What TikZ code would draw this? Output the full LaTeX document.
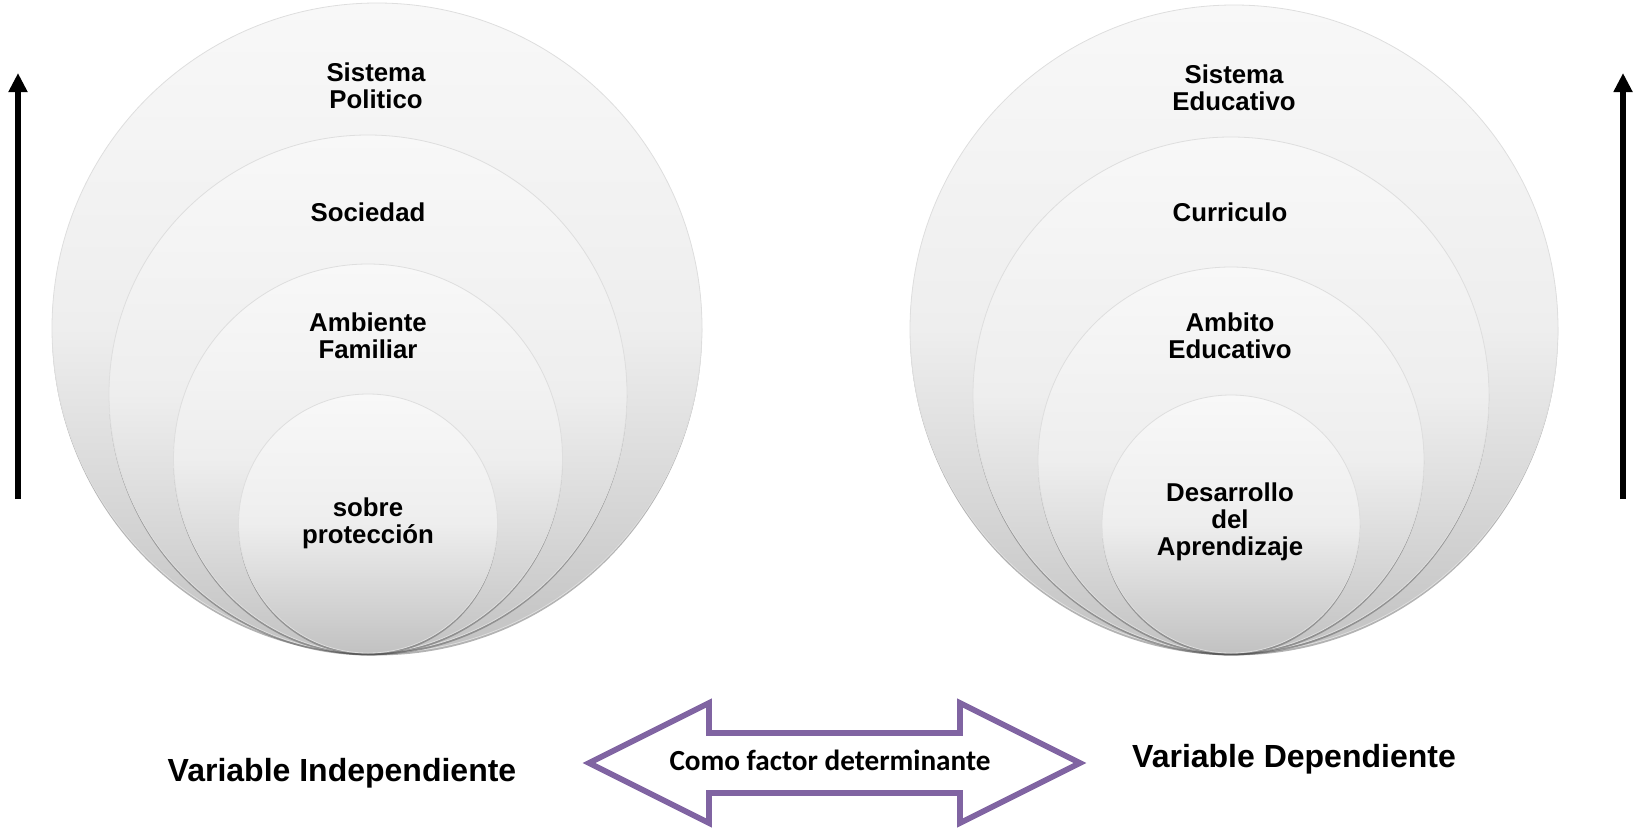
\documentclass[tikz,border=0pt]{standalone}
\usepackage{fontspec}
\setmainfont{Liberation Sans}
\newfontfamily\calib{Carlito}
\usetikzlibrary{arrows.meta,shadows}
\definecolor{purp}{HTML}{8064A2}
\definecolor{ctop}{HTML}{F8F8F8}
\definecolor{cmid}{HTML}{EEEEEE}
\definecolor{cbot}{HTML}{C2C2C2}
\tikzset{
  ring/.style={circle, inner sep=0pt, minimum size=#1, draw=black!13, line width=0.4pt,
    top color=ctop, bottom color=cbot, middle color=cmid,
    drop shadow={shadow xshift=0pt, shadow yshift=-1.2pt, opacity=0.4, fill=black!75}},
  lbl/.style={align=center, inner sep=0pt, font=\bfseries\fontsize{12.9}{13.4}\selectfont},
  varlbl/.style={inner sep=0pt, font=\bfseries\fontsize{16}{18}\selectfont},
  uparrow/.style={line width=3pt, -{Triangle[width=9pt,length=9.5pt]}},
  dblarrow/.style={draw=purp, line width=2.85pt, line join=miter, fill=white}
}
\begin{document}
\begin{tikzpicture}[x=0.5pt,y=-0.5pt]
\useasboundingbox (0,0) rectangle (1636,830);
% left set
\node[ring=325pt] (L1) at (377,328) {};
\node[ring=259pt] (L2) at (368,394) {};
\node[ring=194.5pt] (L3) at (368,458.5) {};
\node[ring=129.5pt] (L4) at (368,523.5) {};
\node[lbl] (tL1) at (376,86) {Sistema\\Politico};
\node[lbl] (tL2) at (368,212) {Sociedad};
\node[lbl] (tL3) at (368,336) {Ambiente\\Familiar};
\node[lbl] (tL4) at (368,523) {sobre\\protección};
% right set
\node[ring=324pt] (R1) at (1234,329) {};
\node[ring=258pt] (R2) at (1231,395) {};
\node[ring=193pt] (R3) at (1231,460) {};
\node[ring=129pt] (R4) at (1231,524) {};
\node[lbl] (tR1) at (1234,87.5) {Sistema\\Educativo};
\node[lbl] (tR2) at (1230,212.5) {Curriculo};
\node[lbl] (tR3) at (1230,336) {Ambito\\Educativo};
\node[lbl] (tR4) at (1230,522) {Desarrollo\\del\\Aprendizaje};
% vertical arrows
\coordinate (la0) at (18,499);
\coordinate (la1) at (18,73);
\coordinate (ra0) at (1623,499);
\coordinate (ra1) at (1623,73);
\draw[uparrow] (la0) -- (la1);
\draw[uparrow] (ra0) -- (ra1);
% double arrow
\path[dblarrow] (589,763) -- (709,703) -- (709,733) -- (960,733) -- (960,703)
  -- (1080,763) -- (960,823) -- (960,793) -- (709,793) -- (709,823) -- cycle;
\node[inner sep=0pt, font=\calib\bfseries\fontsize{14.6}{16}\selectfont] (mid) at (830,760) {Como factor determinante};
% variable labels
\node[varlbl] (vi) at (342,773) {Variable Independiente};
\node[varlbl] (vd) at (1294,759) {Variable Dependiente};
\end{tikzpicture}
\end{document}
